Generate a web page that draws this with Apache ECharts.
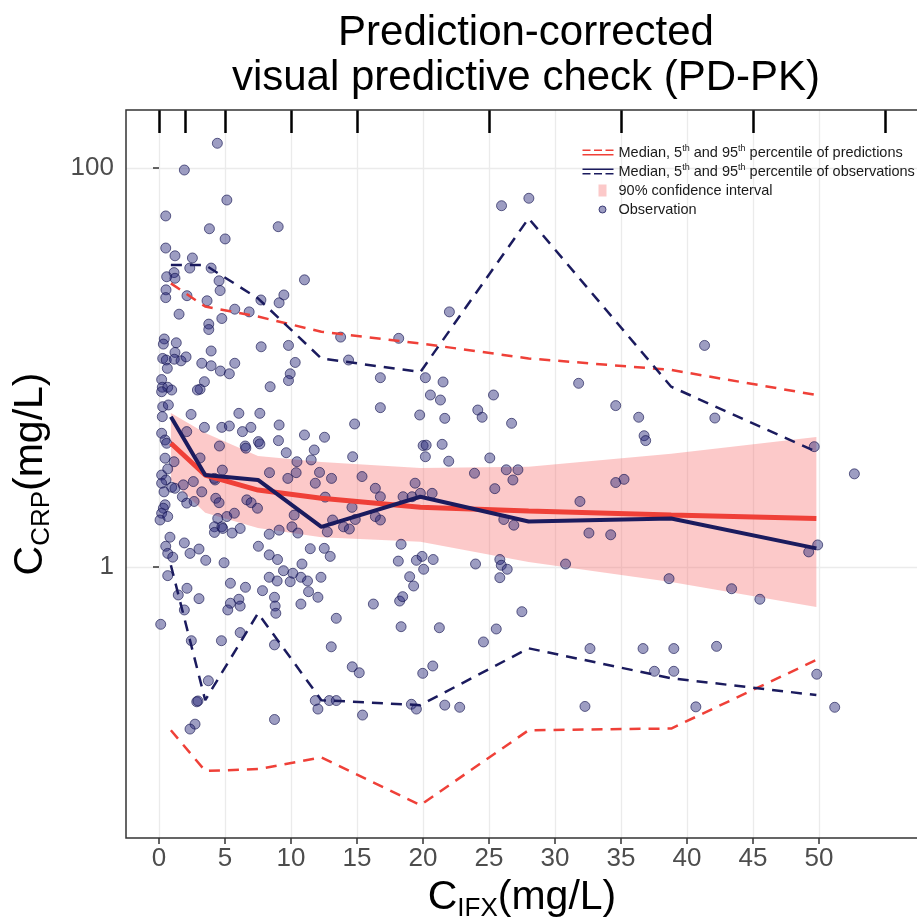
<!doctype html>
<html>
    <head>
        <meta charset="utf-8">
        <script src="https://cdn.jsdelivr.net/npm/echarts@6/dist/echarts.min.js"></script>
        <style>
            html, body { margin: 0; padding: 0; background: #fff; }
            #main { width: 917px; height: 919px; }
        </style>
    </head>
    <body>
        <div id="main"></div>
        <script>
            // bin medians of C_IFX used for the percentile lines
            var binX = [0.9, 3.5, 7.5, 12.3, 19.8, 28.0, 38.8, 49.8];
            // bin edges shown as the rug at the top of the panel
            var binEdges = [0, 2, 5, 10, 15, 25, 35, 45, 55];

            var predMed = [4.17, 2.89, 2.43, 2.21, 1.99, 1.91, 1.82, 1.75];
            var predLo = [0.152, 0.095, 0.097, 0.111, 0.064, 0.152, 0.155, 0.342];
            var predHi = [26.4, 20.2, 18.0, 15.1, 13.2, 11.1, 9.72, 7.28];
            var ciLo = [2.73, 1.87, 1.57, 1.41, 1.34, 1.06, 0.84, 0.63];
            var ciHi = [5.91, 4.70, 3.60, 3.36, 3.13, 3.18, 3.69, 4.48];

            var obsMed = [5.67, 2.89, 2.73, 1.59, 2.25, 1.69, 1.75, 1.24];
            var obsLo = [1.02, 0.215, 0.586, 0.215, 0.203, 0.391, 0.277, 0.228];
            var obsHi = [32.6, 32.6, 22.2, 11.1, 9.49, 55.9, 8.01, 3.78];

            var obsX = [
                4.42, 1.92, 5.14, 0.51, 3.82, 9.03, 5.01, 0.51, 1.21, 2.53,
                3.95, 2.33, 1.14, 0.58, 1.21, 4.55, 11.02, 0.53, 0.51, 4.63,
                2.12, 9.46, 9.10, 7.72, 3.64, 1.52, 5.74, 6.83, 4.76, 3.77,
                3.77, 13.76, 0.40, 0.33, 1.31, 7.74, 9.81, 3.95, 1.21, 0.28,
                0.55, 0.63, 1.16, 1.67, 2.05, 3.24, 3.95, 4.65, 5.33, 5.74,
                10.32, 14.36, 9.94, 9.81, 0.20, 0.25, 0.66, 0.96, 0.20, 3.44,
                3.11, 2.91, 8.42, 16.77, 16.77, 0.28, 0.71, 0.25, 0.20, 0.46,
                0.58, 2.43, 6.05, 7.64, 9.10, 14.82, 3.44, 4.76, 5.33, 6.32,
                6.96, 2.10, 11.02, 12.54, 4.58, 6.53, 6.58, 7.53, 7.64, 9.05,
                9.64, 11.76, 14.67, 0.46, 0.66, 0.20, 0.53, 1.14, 3.11, 10.45,
                11.53, 4.80, 8.37, 10.39, 12.16, 4.25, 2.60, 4.20, 9.76, 13.07,
                15.38, 0.20, 0.38, 0.96, 1.21, 1.84, 3.24, 11.84, 16.39, 16.77,
                0.46, 0.33, 0.20, 0.08, 0.66, 1.77, 2.10, 2.66, 4.30, 4.55,
                6.65, 6.98, 7.46, 12.59, 14.62, 13.98, 14.42, 14.87, 10.24, 10.07,
                10.52, 9.10, 8.35, 13.15, 12.75, 4.45, 4.20, 4.76, 4.83, 5.14,
                5.71, 5.54, 6.15, 4.20, 0.83, 0.51, 1.92, 7.53, 11.46, 12.52,
                3.03, 16.77, 16.39, 0.66, 1.04, 2.35, 3.54, 4.93, 8.35, 8.98,
                12.97, 10.83, 0.66, 2.12, 1.46, 3.03, 1.92, 5.41, 6.55, 6.05,
                5.41, 5.21, 6.15, 7.84, 8.35, 8.95, 9.43, 9.94, 10.14, 10.75,
                11.25, 12.27, 8.75, 8.80, 8.85, 11.33, 12.04, 10.75, 16.24, 0.13,
                13.43, 2.45, 4.73, 6.15, 8.75, 13.05, 14.64, 15.17, 3.74, 2.86,
                2.95, 11.84, 12.04, 12.90, 13.43, 15.42, 2.73, 2.35, 8.75,
                25.95, 28.02, 22.0, 18.16, 41.33, 20.18, 21.52, 31.79, 20.56, 21.32,
                25.34, 19.75, 21.65, 24.15, 24.48, 26.71, 34.60, 36.34, 42.11, 36.75,
                36.87, 20.01, 20.24, 20.18, 21.45, 21.95, 25.06, 49.64, 23.90, 26.31,
                27.19, 26.81, 25.44, 52.68, 19.40, 34.60, 35.23, 18.49, 19.17, 19.80,
                20.69, 31.89, 26.12, 26.88, 32.57, 34.22, 18.34, 49.90,
                30.80, 18.13, 19.50, 19.93, 20.05, 20.77, 23.98, 25.82, 25.93, 26.38,
                25.82, 18.99, 19.29, 38.64, 43.38, 45.52, 18.23, 18.46, 27.49, 18.34,
                21.24, 25.55, 24.58, 32.65, 36.67, 39.00, 42.24, 20.74, 19.98, 37.53,
                39.00, 49.83, 19.12, 19.50, 21.65, 22.78, 32.27, 40.67, 51.19, 49.22
            ];
            var obsY = [
                133, 97.7, 69.1, 57.5, 49.6, 50.8, 44.1, 39.7, 36.3, 35.4,
                31.5, 31.5, 29.9, 28.5, 28.0, 27.2, 27.5, 24.5, 22.4, 24.3,
                22.9, 23.1, 21.1, 21.8, 21.6, 18.5, 19.6, 19.0, 17.6, 16.5,
                15.5, 14.2, 13.9, 13.1, 13.3, 12.7, 12.9, 12.1, 11.9, 11.1,
                10.9, 9.9, 11.0, 10.8, 11.3, 10.5, 10.2, 9.6, 9.3, 10.5,
                10.6, 10.9, 9.3, 8.6, 8.7, 7.96, 7.96, 7.71, 7.56, 8.49,
                7.78, 7.71, 8.01, 8.89, 6.29, 6.36, 6.49, 5.67, 4.68, 4.33,
                4.17, 5.82, 5.89, 5.89, 5.15, 5.21, 5.01, 5.01, 5.09, 4.77,
                5.01, 4.77, 4.59, 4.47, 4.04, 4.04, 3.94, 4.25, 4.14, 4.30,
                3.74, 3.86, 3.57, 3.51, 3.10, 2.89, 2.73, 3.37, 3.52, 3.37,
                3.44, 3.06, 2.97, 2.97, 2.98, 2.73, 2.68, 2.78, 2.78, 2.78,
                2.84, 2.63, 2.38, 2.51, 2.48, 2.58, 2.38, 2.63, 2.48, 2.25,
                2.05, 1.97, 1.86, 1.72, 1.79, 2.25, 2.09, 2.13, 2.21, 2.10,
                2.17, 2.10, 1.97, 2.24, 1.99, 1.59, 1.55, 1.73, 1.82, 1.59,
                1.48, 1.53, 1.46, 1.72, 1.50, 1.75, 1.59, 1.59, 1.56, 1.79,
                1.86, 1.48, 1.56, 1.49, 1.41, 1.27, 1.32, 1.27, 1.235, 1.24,
                1.23, 1.72, 1.79, 1.17, 1.12, 1.17, 1.08, 1.05, 1.15, 1.09,
                1.13, 1.035, 0.905, 0.782, 0.724, 0.694, 0.609, 0.829, 0.791, 0.689,
                0.658, 0.609, 0.637, 0.761, 0.888, 0.851, 0.958, 0.844, 0.930, 0.888,
                0.851, 0.888, 0.705, 0.637, 0.586, 0.752, 0.705, 0.652, 0.652, 0.516,
                0.553, 0.427, 0.427, 0.469, 0.407, 0.398, 0.316, 0.295, 0.269, 0.211,
                0.213, 0.214, 0.194, 0.214, 0.214, 0.181, 0.163, 0.154, 0.172,
                64.7, 70.5, 19.0, 14.0, 12.9, 8.89, 8.46, 8.33, 7.28, 6.87,
                7.28, 5.78, 5.56, 6.12, 5.63, 5.25, 6.44, 5.63, 5.58, 4.55,
                4.30, 4.06, 4.08, 3.57, 4.12, 3.39, 3.52, 4.01, 2.95, 3.07,
                3.07, 2.73, 2.47, 2.93, 2.63, 2.65, 2.75, 2.25, 2.25, 2.34,
                2.34, 2.13, 1.73, 1.62, 1.48, 1.45, 1.30, 1.29,
                1.035, 1.07, 1.08, 1.13, 0.974, 1.09, 1.035, 1.09, 1.02, 0.974,
                0.884, 0.894, 0.803, 0.874, 0.778, 0.689, 0.675, 0.710, 0.597, 0.502,
                0.496, 0.489, 0.421, 0.390, 0.390, 0.390, 0.400, 0.319, 0.293, 0.300,
                0.300, 0.290, 0.205, 0.194, 0.203, 0.198, 0.200, 0.199, 0.198, 1.19
            ];

            var yTickValues = [1, 100];
            var xTickValues = [0, 5, 10, 15, 20, 25, 30, 35, 40, 45, 50];

            var PRED = 'Median, 5th and 95th percentile of predictions';
            var OBS = 'Median, 5th and 95th percentile of observations';
            var CI = '90% confidence interval';
            var PT = 'Observation';

            var red = '#ef4038';
            var navy = '#1b1b5e';
            var pink = 'rgba(248, 105, 105, 0.36)';
            var ptFill = 'rgba(32, 32, 115, 0.55)';
            var font = '"Liberation Sans", Arial, sans-serif';

            function pairs(xs, ys) {
                return xs.map(function (x, i) { return [x, ys[i]]; });
            }

            var chart = echarts.init(document.getElementById('main'));

            var lineSeries = function (name, ys, color, width, dashed, z) {
                return {
                    type: 'line',
                    name: name,
                    data: pairs(binX, ys),
                    showSymbol: false,
                    symbol: 'none',
                    z: z,
                    lineStyle: {
                        color: color,
                        width: width,
                        type: dashed ? [11, 8] : 'solid'
                    },
                    silent: true
                };
            };

            chart.setOption({
                backgroundColor: '#fff',
                animation: false,
                title: {
                    text: 'Prediction-corrected\nvisual predictive check (PD-PK)',
                    left: 521,
                    top: 6,
                    textAlign: 'center',
                    textStyle: {
                        fontFamily: font,
                        fontSize: 42,
                        fontWeight: 'normal',
                        color: '#000',
                        lineHeight: 45
                    }
                },
                legend: {
                    orient: 'vertical',
                    left: 577,
                    top: 139,
                    itemWidth: 31,
                    itemHeight: 12,
                    itemGap: 2,
                    selectedMode: false,
                    data: [
                        { name: PRED, icon: 'path://M0,0M31,12M0,3H8V4.6H0ZM11.5,3H19.5V4.6H11.5ZM23,3H31V4.6H23ZM0,7.4H31V9H0Z', itemStyle: { color: red, borderWidth: 0 } },
                        { name: OBS, icon: 'path://M0,0M31,12M0,3H31V4.6H0ZM0,7.4H8V9H0ZM11.5,7.4H19.5V9H11.5ZM23,7.4H31V9H23Z', itemStyle: { color: navy, borderWidth: 0 } },
                        { name: CI, icon: 'path://M0,0M31,12M16,0H24V12H16Z', itemStyle: { color: pink, borderWidth: 0 } },
                        { name: PT, icon: 'path://M0,0M31,12M23.5,6A3.5,3.5,0,1,1,16.5,6A3.5,3.5,0,1,1,23.5,6Z', itemStyle: { color: ptFill, borderColor: navy, borderWidth: 1 } }
                    ],
                    formatter: function (name) {
                        if (name === PRED || name === OBS) {
                            var tail = name === PRED ? 'predictions' : 'observations';
                            return '{t|Median, 5}{s|th}{t| and 95}{s|th}{t| percentile of ' + tail + '}';
                        }
                        return '{t|' + name + '}';
                    },
                    textStyle: {
                        lineHeight: 17,
                        rich: {
                            t: { fontFamily: font, fontSize: 14.5, color: '#1a1a1a', lineHeight: 17 },
                            s: { fontFamily: font, fontSize: 9, color: '#1a1a1a', verticalAlign: 'top', lineHeight: 17 }
                        }
                    }
                },
                grid: {
                    left: 126,
                    top: 110,
                    width: 792,
                    height: 728,
                    outerBoundsMode: 'none',
                    containLabel: false,
                    show: true,
                    z: 10,
                    backgroundColor: 'transparent',
                    borderColor: '#333',
                    borderWidth: 1.5
                },
                xAxis: [{
                    type: 'value',
                    position: 'bottom',
                    min: -2.5,
                    max: 57.5,
                    interval: 2.5,
                    axisLine: { show: false },
                    axisTick: {
                        show: true,
                        customValues: xTickValues,
                        length: 6,
                        lineStyle: { color: '#333', width: 1.5 }
                    },
                    axisLabel: {
                        customValues: xTickValues,
                        margin: 8,
                        color: '#4d4d4d',
                        fontFamily: font,
                        fontSize: 26
                    },
                    splitLine: { show: true, lineStyle: { color: '#ebebeb', width: 1.3 } },
                    name: '{n|C}{s|IFX}{n|(mg/L)}',
                    nameLocation: 'middle',
                    nameGap: 33,
                    nameTextStyle: {
                        rich: {
                            n: { fontFamily: font, fontSize: 41, color: '#000', lineHeight: 44 },
                            s: { fontFamily: font, fontSize: 26, color: '#000', lineHeight: 48, verticalAlign: 'bottom' }
                        }
                    }
                }, {
                    type: 'value',
                    position: 'top',
                    min: -2.5,
                    max: 57.5,
                    axisLine: { show: false },
                    axisLabel: { show: false },
                    splitLine: { show: false },
                    axisTick: {
                        show: true,
                        inside: true,
                        customValues: binEdges,
                        length: 23,
                        lineStyle: { color: '#000', width: 2.5 }
                    }
                }],
                yAxis: {
                    type: 'log',
                    logBase: 10,
                    min: 0.0438,
                    max: 195.3,
                    axisLine: { show: false },
                    axisTick: {
                        show: true,
                        customValues: yTickValues,
                        length: 6,
                        lineStyle: { color: '#333', width: 1.5 }
                    },
                    axisLabel: {
                        customValues: yTickValues,
                        margin: 12,
                        color: '#4d4d4d',
                        fontFamily: font,
                        fontSize: 26,
                        formatter: function (v) { return String(Math.round(v)); }
                    },
                    splitLine: { show: true, lineStyle: { color: '#ebebeb', width: 1.3 } },
                    name: '{n|C}{s|CRP}{n|(mg/L)}',
                    nameLocation: 'middle',
                    nameRotate: 90,
                    nameGap: 71,
                    nameTextStyle: {
                        rich: {
                            n: { fontFamily: font, fontSize: 41, color: '#000', lineHeight: 44 },
                            s: { fontFamily: font, fontSize: 26, color: '#000', lineHeight: 48, verticalAlign: 'bottom' }
                        }
                    }
                },
                series: [{
                    type: 'custom',
                    name: CI,
                    data: binX.map(function (x, i) { return [x, ciLo[i], ciHi[i]]; }),
                    encode: { x: 0, y: [1, 2] },
                    z: 1,
                    silent: true,
                    renderItem: function (params, api) {
                        if (params.dataIndex !== 0) return null;
                        var pts = [];
                        for (var i = 0; i < binX.length; i++) pts.push(api.coord([binX[i], ciHi[i]]));
                        for (var j = binX.length - 1; j >= 0; j--) pts.push(api.coord([binX[j], ciLo[j]]));
                        return { type: 'polygon', shape: { points: pts }, style: { fill: pink } };
                    }
                }, {
                    type: 'scatter',
                    name: PT,
                    data: pairs(obsX, obsY),
                    symbolSize: 10,
                    z: 2,
                    silent: true,
                    itemStyle: { color: ptFill, borderColor: 'rgba(20, 20, 80, 0.8)', borderWidth: 1 }
                },
                    lineSeries(PRED, predLo, red, 2.5, true, 3),
                    lineSeries(PRED, predHi, red, 2.5, true, 3),
                    lineSeries(PRED, predMed, red, 5, false, 3),
                    lineSeries(OBS, obsLo, navy, 2.5, true, 4),
                    lineSeries(OBS, obsHi, navy, 2.5, true, 4),
                    lineSeries(OBS, obsMed, navy, 4, false, 4)
                ]
            });

            window.onresize = chart.resize;
        </script>
    </body>
</html>
